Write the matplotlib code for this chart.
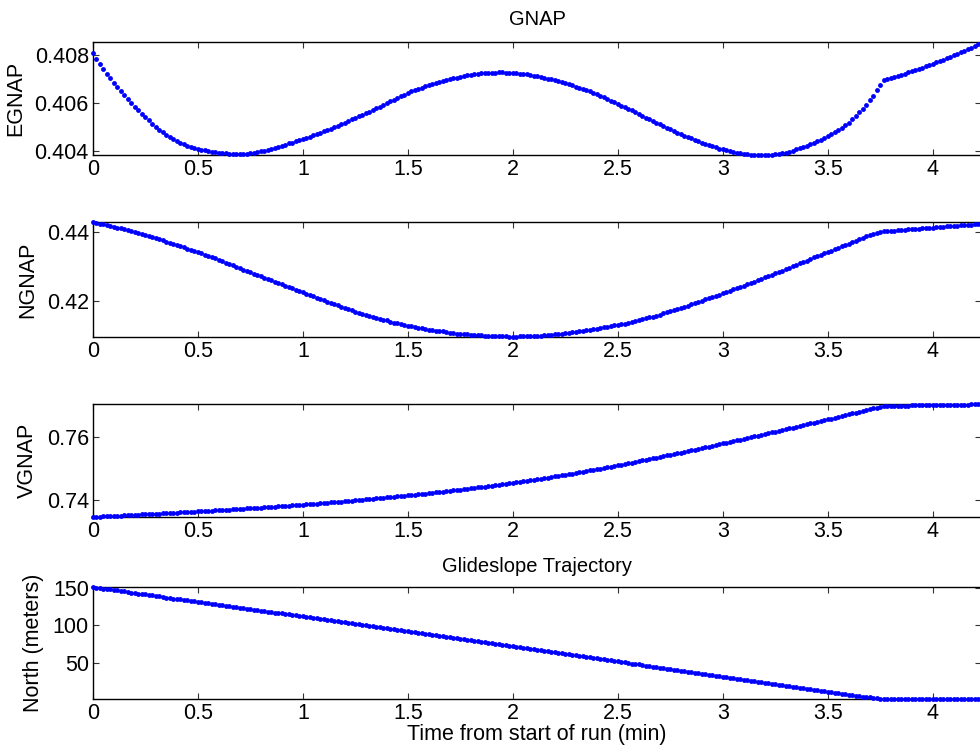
import matplotlib
matplotlib.use('Agg')
import matplotlib.pyplot as plt
import numpy as np

# GNAP components, one sample per second
egnap = [0.4081, 0.40786, 0.40764, 0.40743, 0.40723, 0.40704, 0.40686, 0.40668, 0.40651, 0.40634,
         0.40617, 0.40601, 0.40586, 0.40571, 0.40556, 0.40542, 0.40529, 0.40516, 0.40503, 0.40491,
         0.4048, 0.4047, 0.4046, 0.40451, 0.40443, 0.40436, 0.4043, 0.40424, 0.40419, 0.40415,
         0.40411, 0.40407, 0.40404, 0.40401, 0.40399, 0.40397, 0.40395, 0.40394, 0.40392, 0.40391,
         0.4039, 0.40389, 0.40389, 0.4039, 0.40391, 0.40392, 0.40394, 0.40397, 0.404, 0.40403,
         0.40407, 0.40411, 0.40415, 0.40419, 0.40424, 0.40428, 0.40433, 0.40437, 0.40442, 0.40446,
         0.40451, 0.40456, 0.40461, 0.40467, 0.40472, 0.40478, 0.40483, 0.40489, 0.40495, 0.40501,
         0.40507, 0.40513, 0.4052, 0.40526, 0.40533, 0.40539, 0.40546, 0.40552, 0.40559, 0.40566,
         0.40573, 0.4058, 0.40587, 0.40594, 0.40601, 0.40609, 0.40616, 0.40623, 0.4063, 0.40637,
         0.40644, 0.4065, 0.40655, 0.40661, 0.40666, 0.40671, 0.40676, 0.40681, 0.40686, 0.4069,
         0.40694, 0.40698, 0.40702, 0.40705, 0.40708, 0.40711, 0.40714, 0.40717, 0.40719, 0.40721,
         0.40723, 0.40725, 0.40726, 0.40727, 0.40728, 0.40728, 0.40729, 0.40729, 0.40728, 0.40728,
         0.40727, 0.40726, 0.40724, 0.40723, 0.40721, 0.40719, 0.40716, 0.40713, 0.4071, 0.40707,
         0.40703, 0.407, 0.40696, 0.40692, 0.40688, 0.40684, 0.40679, 0.40675, 0.4067, 0.40666,
         0.40661, 0.40656, 0.4065, 0.40644, 0.40638, 0.40632, 0.40625, 0.40619, 0.40612, 0.40605,
         0.40598, 0.40591, 0.40584, 0.40578, 0.40571, 0.40563, 0.40556, 0.40549, 0.40541, 0.40534,
         0.40527, 0.4052, 0.40513, 0.40506, 0.40499, 0.40492, 0.40485, 0.40478, 0.40472, 0.40466,
         0.4046, 0.40454, 0.40448, 0.40443, 0.40437, 0.40432, 0.40427, 0.40422, 0.40417, 0.40412,
         0.40408, 0.40404, 0.404, 0.40397, 0.40394, 0.40392, 0.4039, 0.40388, 0.40387, 0.40386,
         0.40385, 0.40385, 0.40385, 0.40385, 0.40386, 0.40388, 0.4039, 0.40392, 0.40395, 0.40399,
         0.40403, 0.40408, 0.40413, 0.40419, 0.40424, 0.4043, 0.40436, 0.40442, 0.40448, 0.40455,
         0.40463, 0.40471, 0.40479, 0.40488, 0.40498, 0.40508, 0.4052, 0.40534, 0.40548, 0.40563,
         0.40578, 0.40595, 0.40613, 0.40633, 0.40655, 0.40676, 0.40696, 0.40701, 0.40706, 0.4071,
         0.40715, 0.40719, 0.40724, 0.40729, 0.40734, 0.40739, 0.40744, 0.40749, 0.40754, 0.4076,
         0.40765, 0.40771, 0.40776, 0.40782, 0.40788, 0.40794, 0.408, 0.40807, 0.40813, 0.40819,
         0.40826, 0.40832, 0.40839, 0.40846]

ngnap = [0.4429, 0.4427, 0.4425, 0.4423, 0.4421, 0.4418, 0.4416, 0.4414, 0.4412, 0.4409,
         0.4407, 0.4404, 0.4401, 0.4398, 0.4396, 0.4393, 0.439, 0.4387, 0.4383, 0.438,
         0.4377, 0.4373, 0.437, 0.4367, 0.4363, 0.436, 0.4356, 0.4353, 0.4349, 0.4346,
         0.4342, 0.4339, 0.4335, 0.4331, 0.4327, 0.4324, 0.432, 0.4316, 0.4312, 0.4308,
         0.4304, 0.43, 0.4296, 0.4292, 0.4288, 0.4284, 0.428, 0.4276, 0.4272, 0.4268,
         0.4264, 0.4261, 0.4257, 0.4253, 0.4249, 0.4245, 0.4241, 0.4237, 0.4233, 0.423,
         0.4226, 0.4222, 0.4218, 0.4214, 0.421, 0.4206, 0.4203, 0.4199, 0.4195, 0.4191,
         0.4188, 0.4184, 0.418, 0.4177, 0.4174, 0.417, 0.4167, 0.4164, 0.4161, 0.4157,
         0.4154, 0.4152, 0.4149, 0.4146, 0.4144, 0.4141, 0.4138, 0.4136, 0.4133, 0.4131,
         0.4129, 0.4127, 0.4125, 0.4123, 0.4121, 0.4119, 0.4117, 0.4116, 0.4114, 0.4113,
         0.4112, 0.411, 0.4109, 0.4108, 0.4106, 0.4105, 0.4105, 0.4104, 0.4103, 0.4102,
         0.4102, 0.4101, 0.41, 0.41, 0.41, 0.4099, 0.4099, 0.4098, 0.4098, 0.4097,
         0.4097, 0.4097, 0.4098, 0.4098, 0.4099, 0.4099, 0.4099, 0.41, 0.41, 0.4101,
         0.4102, 0.4103, 0.4104, 0.4105, 0.4106, 0.4107, 0.4108, 0.411, 0.4111, 0.4113,
         0.4114, 0.4116, 0.4117, 0.4119, 0.412, 0.4122, 0.4124, 0.4126, 0.4128, 0.413,
         0.4131, 0.4133, 0.4135, 0.4138, 0.414, 0.4143, 0.4145, 0.4148, 0.415, 0.4153,
         0.4155, 0.4158, 0.4161, 0.4165, 0.4168, 0.4171, 0.4174, 0.4177, 0.418, 0.4184,
         0.4187, 0.4191, 0.4194, 0.4198, 0.4201, 0.4205, 0.4208, 0.4212, 0.4215, 0.4219,
         0.4223, 0.4226, 0.423, 0.4234, 0.4237, 0.4241, 0.4245, 0.4249, 0.4253, 0.4257,
         0.4261, 0.4265, 0.4269, 0.4273, 0.4277, 0.4281, 0.4285, 0.4289, 0.4293, 0.4297,
         0.4301, 0.4305, 0.431, 0.4314, 0.4318, 0.4322, 0.4327, 0.4331, 0.4335, 0.4339,
         0.4343, 0.4347, 0.4351, 0.4355, 0.4359, 0.4363, 0.4367, 0.4371, 0.4375, 0.438,
         0.4384, 0.4388, 0.4392, 0.4396, 0.4399, 0.4402, 0.4403, 0.4404, 0.4405, 0.4405,
         0.4406, 0.4407, 0.4408, 0.4409, 0.4409, 0.441, 0.4411, 0.4412, 0.4412, 0.4413,
         0.4414, 0.4415, 0.4415, 0.4416, 0.4417, 0.4418, 0.4418, 0.4419, 0.442, 0.4421,
         0.4421, 0.4422, 0.4423, 0.4423]

vgnap = [0.73444, 0.7345, 0.73455, 0.73461, 0.73466, 0.73472, 0.73477, 0.73483, 0.73488, 0.73494,
         0.73499, 0.73505, 0.7351, 0.73516, 0.73522, 0.73528, 0.73533, 0.73539, 0.73545, 0.73551,
         0.73557, 0.73564, 0.7357, 0.73576, 0.73582, 0.73588, 0.73594, 0.73601, 0.73607, 0.73613,
         0.73619, 0.73626, 0.73632, 0.73639, 0.73645, 0.73652, 0.73658, 0.73665, 0.73672, 0.73679,
         0.73685, 0.73692, 0.73699, 0.73706, 0.73714, 0.73721, 0.73728, 0.73736, 0.73743, 0.73751,
         0.73758, 0.73766, 0.73774, 0.73781, 0.73789, 0.73797, 0.73805, 0.73814, 0.73822, 0.7383,
         0.73838, 0.73847, 0.73855, 0.73864, 0.73873, 0.73881, 0.7389, 0.73899, 0.73908, 0.73918,
         0.73927, 0.73936, 0.73945, 0.73955, 0.73965, 0.73975, 0.73984, 0.73994, 0.74004, 0.74015,
         0.74025, 0.74036, 0.74046, 0.74057, 0.74067, 0.74078, 0.74089, 0.741, 0.74111, 0.74122,
         0.74133, 0.74145, 0.74157, 0.74169, 0.7418, 0.74192, 0.74204, 0.74217, 0.74229, 0.74242,
         0.74255, 0.74267, 0.7428, 0.74294, 0.74307, 0.74321, 0.74334, 0.74348, 0.74361, 0.74376,
         0.7439, 0.74405, 0.74419, 0.74434, 0.74448, 0.74463, 0.74479, 0.74494, 0.74509, 0.74525,
         0.7454, 0.74557, 0.74573, 0.7459, 0.74606, 0.74623, 0.74639, 0.74657, 0.74674, 0.74692,
         0.74709, 0.74727, 0.74744, 0.74763, 0.74782, 0.748, 0.74819, 0.74838, 0.74857, 0.74877,
         0.74897, 0.74916, 0.74936, 0.74956, 0.74976, 0.74997, 0.75018, 0.7504, 0.75061, 0.75082,
         0.75103, 0.75125, 0.75147, 0.75169, 0.75191, 0.75213, 0.75235, 0.75258, 0.7528, 0.75303,
         0.75326, 0.75348, 0.75371, 0.75394, 0.75418, 0.75441, 0.75464, 0.75488, 0.75511, 0.75535,
         0.75559, 0.75583, 0.75607, 0.75631, 0.75655, 0.7568, 0.75704, 0.75729, 0.75754, 0.75778,
         0.75803, 0.75828, 0.75853, 0.75879, 0.75904, 0.75929, 0.75954, 0.7598, 0.76005, 0.76031,
         0.76056, 0.76082, 0.76107, 0.76133, 0.76159, 0.76185, 0.7621, 0.76236, 0.76262, 0.76288,
         0.76314, 0.76341, 0.76367, 0.76393, 0.76419, 0.76446, 0.76472, 0.76499, 0.76525, 0.76552,
         0.76578, 0.76605, 0.76632, 0.76659, 0.76686, 0.76713, 0.7674, 0.76767, 0.76794, 0.76822,
         0.76849, 0.76876, 0.76903, 0.7693, 0.76957, 0.76984, 0.77008, 0.7701, 0.77012, 0.77014,
         0.77016, 0.77018, 0.7702, 0.77022, 0.77024, 0.77026, 0.77028, 0.7703, 0.77032, 0.77034,
         0.77036, 0.77038, 0.7704, 0.77042, 0.77044, 0.77046, 0.77048, 0.7705, 0.77052, 0.77054,
         0.77055, 0.77056, 0.77057, 0.77058]

north = [150.8, 150.1, 149.5, 148.8, 148.2, 147.5, 146.8, 146.2, 145.5, 144.9,
         144.2, 143.5, 142.9, 142.2, 141.6, 140.9, 140.2, 139.6, 138.9, 138.3,
         137.6, 136.9, 136.3, 135.6, 135.0, 134.3, 133.6, 133.0, 132.3, 131.7,
         131.0, 130.4, 129.7, 129.1, 128.5, 127.9, 127.2, 126.6, 126.0, 125.3,
         124.7, 124.1, 123.4, 122.8, 122.2, 121.6, 120.9, 120.3, 119.7, 119.0,
         118.4, 117.8, 117.1, 116.5, 115.9, 115.3, 114.6, 114.0, 113.4, 112.7,
         112.1, 111.4, 110.8, 110.1, 109.5, 108.8, 108.1, 107.5, 106.8, 106.2,
         105.5, 104.8, 104.2, 103.5, 102.9, 102.2, 101.5, 100.9, 100.2, 99.6,
         98.9, 98.2, 97.6, 96.9, 96.3, 95.6, 94.9, 94.3, 93.6, 93.0,
         92.3, 91.6, 91.0, 90.3, 89.7, 89.0, 88.3, 87.7, 87.0, 86.4,
         85.7, 85.0, 84.4, 83.7, 83.1, 82.4, 81.7, 81.1, 80.4, 79.8,
         79.1, 78.4, 77.8, 77.1, 76.5, 75.8, 75.1, 74.5, 73.8, 73.2,
         72.5, 71.8, 71.2, 70.5, 69.8, 69.2, 68.5, 67.8, 67.1, 66.5,
         65.8, 65.1, 64.5, 63.8, 63.1, 62.5, 61.8, 61.1, 60.4, 59.8,
         59.1, 58.4, 57.8, 57.1, 56.4, 55.8, 55.1, 54.4, 53.7, 53.1,
         52.4, 51.7, 51.1, 50.4, 49.7, 49.1, 48.4, 47.7, 47.0, 46.4,
         45.7, 45.0, 44.4, 43.7, 43.0, 42.4, 41.7, 41.0, 40.3, 39.7,
         39.0, 38.3, 37.7, 37.0, 36.3, 35.7, 35.0, 34.3, 33.6, 33.0,
         32.3, 31.6, 31.0, 30.3, 29.6, 29.0, 28.3, 27.6, 26.9, 26.3,
         25.6, 24.9, 24.3, 23.6, 22.9, 22.3, 21.6, 20.9, 20.2, 19.6,
         18.9, 18.2, 17.6, 16.9, 16.2, 15.6, 14.9, 14.2, 13.5, 12.9,
         12.2, 11.5, 10.9, 10.2, 9.6, 8.9, 8.3, 7.7, 7.1, 6.5,
         5.9, 5.3, 4.8, 4.3, 3.8, 3.4, 3.0, 2.8, 2.8, 2.8,
         2.8, 2.8, 2.8, 2.8, 2.8, 2.8, 2.8, 2.8, 2.8, 2.8,
         2.8, 2.8, 2.8, 2.8, 2.8, 2.8, 2.8, 2.8, 2.8, 2.8,
         2.8, 2.8, 2.8, 2.8]

xticks = [0, 0.5, 1, 1.5, 2, 2.5, 3, 3.5, 4]
xtick_labels = ['0', '0.5', '1', '1.5', '2', '2.5', '3', '3.5', '4']

panels = [
    # data, ylabel, ylim, yticks, yticklabels, top px, bottom px
    (egnap, 'EGNAP', (0.40385, 0.40856), [0.404, 0.406, 0.408], ['0.404', '0.406', '0.408'], 42, 155),
    (ngnap, 'NGNAP', (0.4096, 0.4430), [0.42, 0.44], ['0.42', '0.44'], 222, 337),
    (vgnap, 'VGNAP', (0.7344, 0.77072), [0.74, 0.76], ['0.74', '0.76'], 404, 517),
    (north, 'North (meters)', (2.8, 150.8), [50, 100, 150], ['50', '100', '150'], 587, 699),
]

t_min = np.arange(len(egnap)) / 60.0

plt.rcParams['font.family'] = ['Liberation Sans', 'DejaVu Sans']
plt.rcParams['font.size'] = 15.5

W, H = 980.0, 749.0
fig = plt.figure(figsize=(W / 100, H / 100), dpi=100)

axes = []
for data, label, ylim, yt, ytl, top, bottom in panels:
    ax = fig.add_axes([93 / W, 1 - bottom / H, 888 / W, (bottom - top) / H])
    ax.plot(t_min, data, 'o', ms=3.5, color='#0000ff', mec='none', clip_on=False, zorder=3)
    ax.set_xlim(0, 4.229)
    ax.set_ylim(*ylim)
    ax.set_xticks(xticks)
    ax.set_xticklabels(xtick_labels)
    ax.set_yticks(yt)
    ax.set_yticklabels(ytl)
    ax.set_ylabel(label, labelpad=6)
    ax.tick_params(direction='in', top=True, right=True, length=4.3, width=0.8,
                   color='#333333')
    ax.tick_params(axis='x', pad=3)
    ax.tick_params(axis='y', pad=3)
    for s in ax.spines.values():
        s.set_linewidth(1.0)
        s.set_color('black')
    axes.append(ax)

axes[0].set_title('GNAP', fontsize=14.5, pad=12.5)
axes[3].set_title('Glideslope Trajectory', fontsize=14.5, pad=10.5)
axes[3].set_xlabel('Time from start of run (min)', labelpad=0)

fig.savefig('out.png', dpi=100)
